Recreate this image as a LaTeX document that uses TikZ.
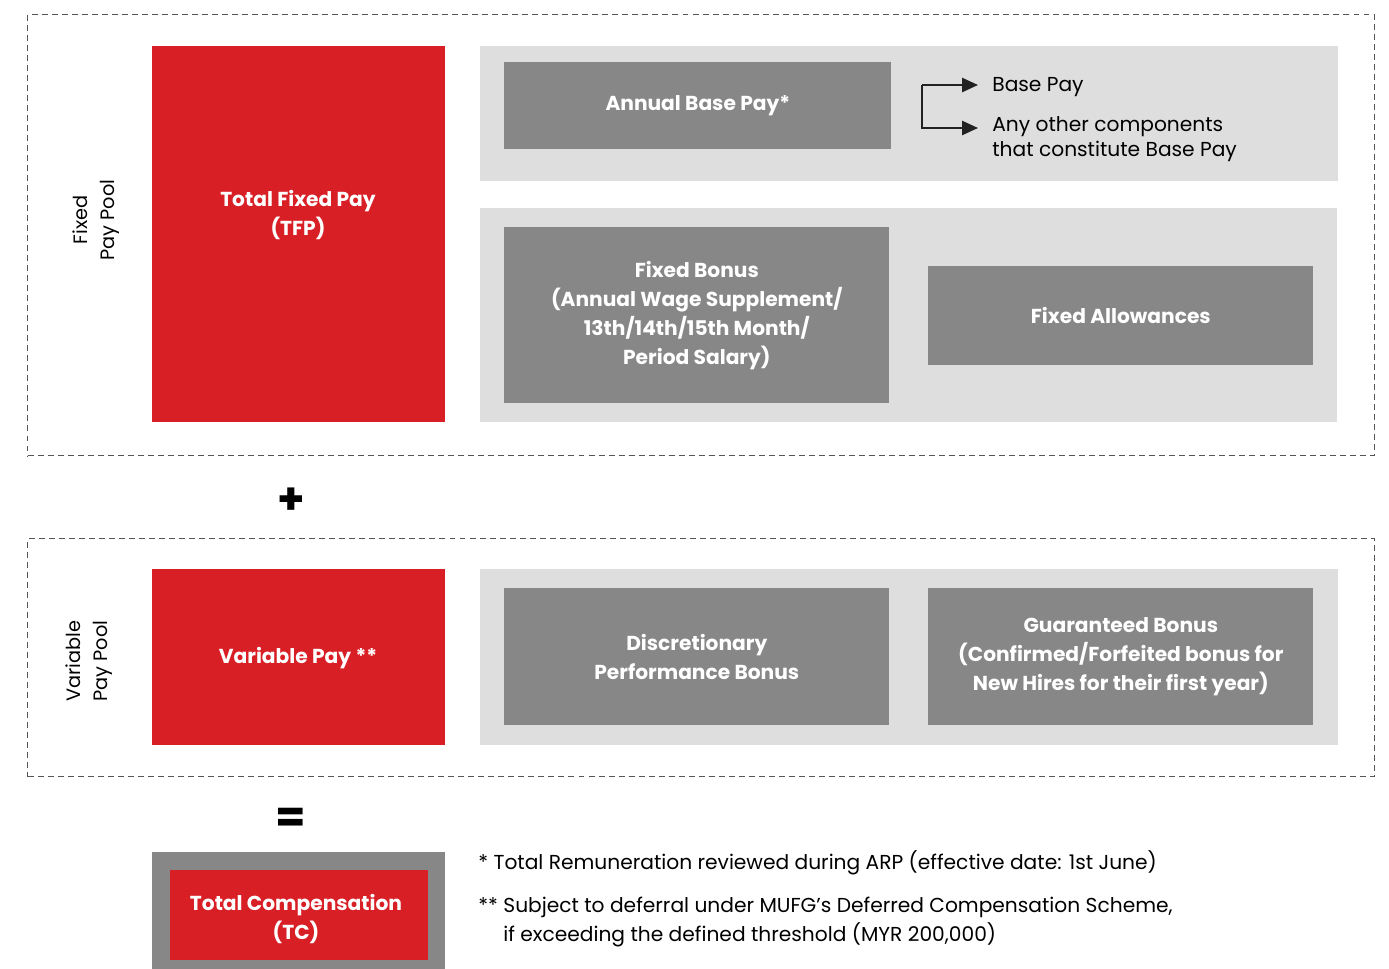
\documentclass[tikz,border=0pt]{standalone}
\usepackage{fontspec}
\setmainfont{Poppins}
\usetikzlibrary{positioning, arrows.meta, calc}
\definecolor{colorred}{HTML}{D91F26}
\definecolor{colordark}{HTML}{878787}
\definecolor{colorpanel}{HTML}{DEDEDE}
\definecolor{colordash}{HTML}{555555}
\definecolor{coloredge}{HTML}{222222}

\begin{document}
\begin{tikzpicture}[
    % one unit = one pixel of the layout, y grows downwards
    x=0.02cm, y=-0.02cm,
    % dashed frame round each pay pool
    pool/.style={
        rectangle,
        draw=colordash,
        dash pattern=on 3.4pt off 2.3pt,
        line width=0.8pt,
        anchor=north west,
        inner sep=0pt
    },
    % red summary boxes on the left
    redbox/.style={
        rectangle,
        fill=colorred,
        anchor=north west,
        inner sep=0pt
    },
    % light grey backing panels
    panel/.style={
        rectangle,
        fill=colorpanel,
        anchor=north west,
        inner sep=0pt
    },
    % dark grey component boxes
    greybox/.style={
        rectangle,
        fill=colordark,
        anchor=north west,
        inner sep=0pt,
        align=center,
        text=white,
        font=\bfseries\fontsize{11.5}{16.5}\selectfont
    },
    boxtext/.style={
        align=center,
        text=white,
        font=\bfseries\fontsize{11.5}{16.5}\selectfont
    },
    pooltext/.style={
        rotate=90,
        align=center,
        font=\fontsize{11}{15.5}\selectfont
    },
    plaintext/.style={
        anchor=west,
        align=left,
        inner sep=0pt,
        font=\fontsize{11.5}{14.2}\selectfont
    },
    note/.style={
        anchor=west,
        align=left,
        inner sep=0pt,
        font=\fontsize{11.5}{16.5}\selectfont
    },
    sign/.style={
        font=\bfseries\fontsize{25}{25}\selectfont
    },
    arrow/.style={
        -{Triangle[length=9pt, width=8pt]},
        coloredge,
        line width=1.1pt
    }
]
\useasboundingbox (0,0) rectangle (1389,969);

% ==============================
% Fixed pay pool
% ==============================
\node[pool, minimum width=26.94cm, minimum height=8.82cm] (fixedpool) at (27,14) {};
\node[pooltext] (fixedlabel) at (96,220) {Fixed\\Pay Pool};

\node[redbox, minimum width=5.86cm, minimum height=7.52cm] (tfp) at (152,46) {};
\node[boxtext] (tfptext) at (298,215) {Total Fixed Pay\\(TFP)};

\node[panel, minimum width=17.16cm, minimum height=2.7cm] (basepanel) at (480,46) {};
\node[greybox, minimum width=7.74cm, minimum height=1.74cm] (annualbase) at (504,62) {Annual Base Pay*};

\coordinate (brk) at (922,85);
\coordinate (brklow) at (922,128);
\coordinate (brkend) at (978,85);
\coordinate (brklowend) at (978,128);
\node[plaintext] (basepay) at (992,87) {Base Pay};
\node[plaintext, anchor=north west] (othercomp) at (992,116) {Any other components\\that constitute Base Pay};

\node[panel, minimum width=17.14cm, minimum height=4.28cm] (bonuspanel) at (480,208) {};
\node[greybox, minimum width=7.7cm, minimum height=3.52cm] (fixedbonus) at (504,227)
    {Fixed Bonus\\(Annual Wage Supplement/\\13th/14th/15th Month/\\Period Salary)};
\node[greybox, minimum width=7.7cm, minimum height=1.98cm] (allowances) at (928,266) {Fixed Allowances};

% ==============================
% Plus
% ==============================
\node[sign] (plus) at (291,501) {+};

% ==============================
% Variable pay pool
% ==============================
\node[pool, minimum width=26.94cm, minimum height=4.76cm] (varpool) at (27,538) {};
\node[pooltext] (varlabel) at (89,661) {Variable\\Pay Pool};

\node[redbox, minimum width=5.86cm, minimum height=3.52cm] (varpay) at (152,569) {};
\node[boxtext] (varpaytext) at (298,658) {Variable Pay **};

\node[panel, minimum width=17.16cm, minimum height=3.52cm] (varpanel) at (480,569) {};
\node[greybox, minimum width=7.7cm, minimum height=2.74cm] (discretionary) at (504,588)
    {Discretionary\\Performance Bonus};
\node[greybox, minimum width=7.7cm, minimum height=2.74cm] (guaranteed) at (928,588)
    {Guaranteed Bonus\\(Confirmed/Forfeited bonus for\\New Hires for their first year)};

% ==============================
% Equals and total
% ==============================
\node[sign] (equals) at (291,820) {=};

\node[redbox, fill=colordark, minimum width=5.86cm, minimum height=2.34cm] (tcframe) at (152,852) {};
\node[redbox, minimum width=5.16cm, minimum height=1.8cm] (tc) at (170,870) {};
\node[boxtext] (tctext) at (296,919) {Total Compensation\\(TC)};

% ==============================
% Notes
% ==============================
\node[note] (noteone) at (478,863) {* Total Remuneration reviewed during ARP (effective date: 1st June)};
\node[note, anchor=north west] (notetwo) at (478,897)
    {** Subject to deferral under MUFG’s Deferred Compensation Scheme,\\
    \hphantom{** }if exceeding the defined threshold (MYR 200,000)};

% ==============================
% Arrows
% ==============================
\draw[arrow] (brk) -- (brkend);
\draw[arrow] (brk) -- (brklow) -- (brklowend);

\end{tikzpicture}
\end{document}
